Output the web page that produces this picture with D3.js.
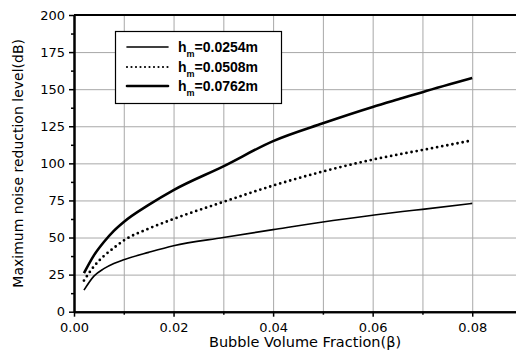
<!DOCTYPE html>
<html>
<head>
<meta charset="utf-8">
<script src="https://cdn.jsdelivr.net/npm/d3@7"></script>
<style>
  body { margin: 0; background: #fff; }
  svg { display: block; font-family: "DejaVu Sans", "Liberation Sans", Arial, sans-serif; }
</style>
</head>
<body>
<svg id="chart" width="516" height="355"></svg>
<script>
// bubble volume fraction (beta)
var beta = [0.002, 0.004, 0.006, 0.008, 0.01, 0.015, 0.02, 0.03, 0.04, 0.05, 0.06, 0.066, 0.07, 0.08];

// maximum noise reduction level (dB) per h_m
var hm0254 = [14.5, 24, 29, 32.5, 35, 40, 44.5, 50, 55.3, 60.5, 65, 67.5, 69, 73];
var hm0508 = [21, 30.5, 37.5, 43, 48, 56, 62.5, 74, 85, 94.5, 102.5, 106.5, 109, 115.5];
var hm0762 = [26, 38, 47, 54.5, 60.5, 72, 82, 98, 115, 127, 138, 144, 148, 157.5];

var seriesLabels = ['0.0254m', '0.0508m', '0.0762m'];

var xMajor = [0, 0.02, 0.04, 0.06, 0.08];
var xGrid = [0.01, 0.02, 0.03, 0.04, 0.05, 0.06, 0.07, 0.08];
var yMajor = [0, 25, 50, 75, 100, 125, 150, 175, 200];
var yGrid = [25, 50, 75, 100, 125, 150, 175];

var svg = d3.select('#chart');

var x = d3.scaleLinear().domain([0, 0.09]).range([74, 522]);
var y = d3.scaleLinear().domain([0, 200]).range([311.7, 15]);

// grid, drawn as full-length ticks
var gx = svg.append('g').attr('class', 'grid').attr('transform', 'translate(0,' + y(0) + ')')
  .call(d3.axisBottom(x).tickValues(xGrid).tickFormat('')
    .tickSizeInner(-(y(0) - y(200))).tickSizeOuter(0));
var gy = svg.append('g').attr('class', 'grid').attr('transform', 'translate(' + x(0) + ',0)')
  .call(d3.axisLeft(y).tickValues(yGrid).tickFormat('')
    .tickSizeInner(-(516 - x(0))).tickSizeOuter(0));
svg.selectAll('.grid .domain').remove();
svg.selectAll('.grid .tick line')
  .style('stroke', '#a8a8a8').style('stroke-width', '1px');

// curves
var line = function(vals) {
  return d3.line()
    .x(function(d, i) { return x(beta[i]); })
    .y(function(d) { return y(d); })
    .curve(d3.curveMonotoneX)(vals);
};

var plot = svg.append('g').attr('fill', 'none').attr('stroke', '#000');
plot.append('path').attr('d', line(hm0254)).attr('stroke-width', 1.6);
plot.append('path').attr('d', line(hm0508)).attr('stroke-width', 2.8)
  .attr('stroke-linecap', 'round').attr('stroke-dasharray', '0,5.2');
plot.append('path').attr('d', line(hm0762)).attr('stroke-width', 2.6);

// axes
var xAxis = d3.axisBottom(x).tickValues(xMajor).tickFormat(d3.format('.2f'))
  .tickSizeInner(5).tickSizeOuter(0);
var xMinor = d3.axisBottom(x).tickValues([0.01, 0.03, 0.05, 0.07])
  .tickFormat('').tickSizeInner(3).tickSizeOuter(0);
var yAxis = d3.axisLeft(y).tickValues(yMajor).tickSizeInner(5).tickSizeOuter(0);
var yMinor = d3.axisLeft(y).tickValues(d3.range(12.5, 200, 25))
  .tickFormat('').tickSizeInner(3).tickSizeOuter(0);

function styleAxis(g) {
  g.attr('font-family', null);
  g.select('.domain').attr('stroke', '#000').attr('stroke-width', 2);
  g.selectAll('.tick line').attr('stroke', '#000').attr('stroke-width', 1.5);
  g.selectAll('.tick text').attr('fill', '#000').attr('font-size', 13);
}

svg.append('g').attr('transform', 'translate(0,' + y(0) + ')').call(xMinor).call(styleAxis);
svg.append('g').attr('transform', 'translate(0,' + y(0) + ')').call(xAxis).call(styleAxis)
  .selectAll('.tick text').attr('dy', '0.95em');
svg.append('g').attr('transform', 'translate(' + x(0) + ',0)').call(yMinor).call(styleAxis);
svg.append('g').attr('transform', 'translate(' + x(0) + ',0)').call(yAxis).call(styleAxis)
  .selectAll('.tick text').attr('x', -9);

// top frame
svg.append('line').attr('x1', x(0)).attr('x2', 516).attr('y1', y(200)).attr('y2', y(200))
  .attr('stroke', '#000').attr('stroke-width', 2);

// axis titles
svg.append('text').attr('x', 305).attr('y', 347).attr('text-anchor', 'middle')
  .attr('font-size', 14.5).text('Bubble Volume Fraction(\u03B2)');
svg.append('text').attr('transform', 'translate(23,' + y(100) + ') rotate(-90)')
  .attr('text-anchor', 'middle').attr('font-size', 14)
  .text('Maximum noise reduction level(dB)');

// legend
var legend = svg.append('g').attr('transform', 'translate(115,31)')
  .attr('font-family', '"Liberation Sans", Arial, sans-serif');
legend.append('rect').attr('x', 0.5).attr('y', 0.5).attr('width', 166).attr('height', 72)
  .attr('fill', '#fff').attr('stroke', '#000').attr('stroke-width', 1.2);
var rowY = [16, 36, 55];
var styles = [
  {w: 1.6, dash: null},
  {w: 2.2, dash: '0,4.5'},
  {w: 2.6, dash: null}
];
seriesLabels.forEach(function(lab, i) {
  var l = legend.append('line').attr('x1', 12).attr('x2', 53)
    .attr('y1', rowY[i]).attr('y2', rowY[i])
    .attr('stroke', '#000').attr('stroke-width', styles[i].w).attr('stroke-linecap', 'round');
  if (styles[i].dash) l.attr('stroke-dasharray', styles[i].dash);
  var t = legend.append('text').attr('x', 63).attr('y', rowY[i] + 5)
    .attr('font-size', 14).attr('font-weight', 'bold');
  t.append('tspan').text('h');
  t.append('tspan').attr('font-size', 9).attr('dy', 5).text('m');
  t.append('tspan').attr('dy', -5).text('=' + lab);
});
</script>
</body>
</html>
